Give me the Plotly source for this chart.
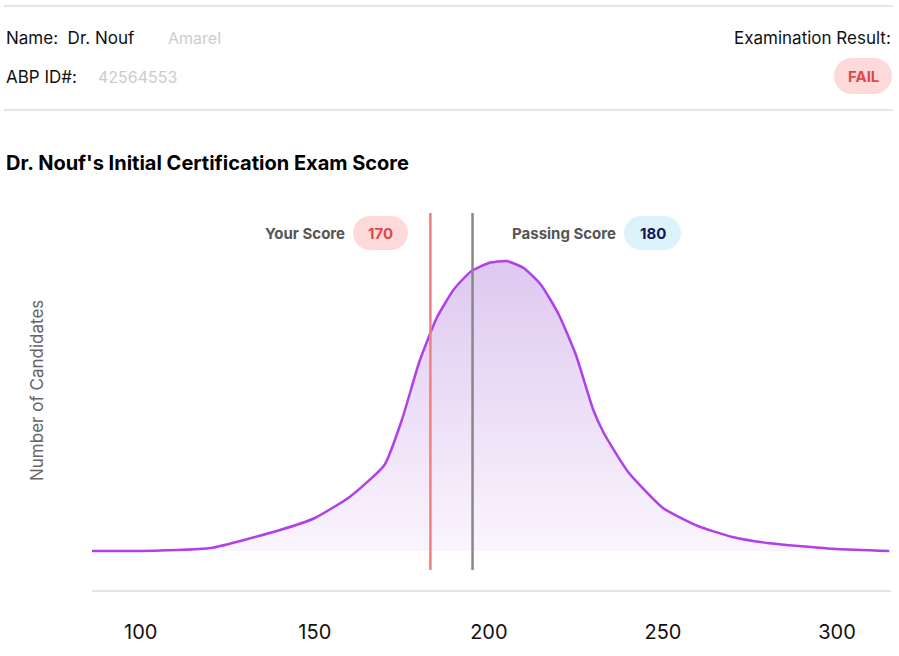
import math
import plotly.graph_objects as go

score_x = [86, 100, 120, 140, 150, 160, 170, 175, 180, 185, 190, 195, 200, 205, 210, 215, 220, 225, 230, 233, 240, 250, 260, 270, 280, 300, 315]
candidates = [0, 0, 3, 21, 33, 54, 86, 131, 189, 233, 262, 280, 288, 290, 283, 266, 237, 196, 141, 118, 79, 43, 25, 14, 8, 2, 0]
your_line_x = 183.2
pass_line_x = 195.3
your_score_label = "170"
pass_score_label = "180"
tick_vals = [100, 150, 200, 250, 300]

W, H = 899, 656
L, R, T, B = 92, 891, 200, 591   # reference pixel coordinates
FONT = "Inter, Open Sans, sans-serif"

def px(x):
    return (x - L) / (R - L)

def py(y):
    return (B - y) / (B - T)

def pill(x0, y0, x1, y1, color):
    r = (y1 - y0) / 2
    cy = (y0 + y1) / 2
    path = f"M {px(x0 + r)} {py(y0)} L {px(x1 - r)} {py(y0)} "
    for i in range(1, 13):
        a = -math.pi / 2 + math.pi * i / 12
        path += f"L {px(x1 - r + r*math.cos(a))} {py(cy + r*math.sin(a))} "
    path += f"L {px(x0 + r)} {py(y1)} "
    for i in range(1, 13):
        a = math.pi / 2 + math.pi * i / 12
        path += f"L {px(x0 + r + r*math.cos(a))} {py(cy + r*math.sin(a))} "
    path += "Z"
    return dict(type="path", xref="paper", yref="paper", path=path,
                fillcolor=color, line=dict(width=0), layer="below")

fig = go.Figure()
fig.add_trace(go.Scatter(
    x=score_x, y=candidates, mode="lines", line=dict(color="#b040e8", width=2.5, shape="spline", smoothing=0.5),
    fill="tozeroy",
    fillgradient=dict(type="vertical", colorscale=[[0, "rgba(250,245,253,1)"], [1, "rgba(222,200,240,1)"]]),
    hoverinfo="skip"))
fig.add_trace(go.Scatter(x=[your_line_x, your_line_x], y=[338, -19], mode="lines",
                         line=dict(color="#f08080", width=2.5), hoverinfo="skip"))
fig.add_trace(go.Scatter(x=[pass_line_x, pass_line_x], y=[338, -19], mode="lines",
                         line=dict(color="#888888", width=2.5), hoverinfo="skip"))

shapes = [
    dict(type="line", xref="paper", yref="paper", x0=px(4), x1=px(893), y0=py(6), y1=py(6), line=dict(color="#dddddd", width=1.5)),
    dict(type="line", xref="paper", yref="paper", x0=px(4), x1=px(893), y0=py(110), y1=py(110), line=dict(color="#dddddd", width=1.5)),
    dict(type="line", xref="paper", yref="paper", x0=0, x1=1, y0=0, y1=0, line=dict(color="#dddddd", width=1.5)),
    pill(353, 216, 408, 250, "#fdd9d9"),
    pill(624, 216, 681, 250, "#ddf3fb"),
    pill(834, 58, 892, 94, "#fdd9d9"),
]

def ann(x, y, text, size, color, xanchor="left", bold=False):
    return dict(xref="paper", yref="paper", x=px(x), y=py(y), text=f"<b>{text}</b>" if bold else text,
                showarrow=False, xanchor=xanchor, yanchor="middle",
                font=dict(family=FONT, size=size, color=color))

annotations = [
    ann(4, 38, "Name:  Dr. Nouf", 17, "#111111"),
    ann(166, 38, "Amarel", 16, "#cccccc"),
    ann(4, 77, "ABP ID#:", 17, "#111111"),
    ann(96, 77, "42564553", 16, "#cccccc"),
    ann(893, 38, "Examination Result:", 17, "#111111", "right"),
    ann(863, 76, "FAIL", 15, "#e04848", "center", True),
    ann(4, 163, "Dr. Nouf's Initial Certification Exam Score", 20, "#000000", bold=True),
    ann(347, 233, "Your Score", 15, "#555555", "right", True),
    ann(380.5, 233, your_score_label, 15, "#e04848", "center", True),
    ann(618, 233, "Passing Score", 15, "#555555", "right", True),
    ann(652.5, 233, pass_score_label, 15, "#14145a", "center", True),
    ann(37, 390, "Number of Candidates", 17, "#666666", "center"),
]
annotations[-1]["textangle"] = -90

fig.update_layout(
    width=W, height=H, margin=dict(l=L, r=W - R, t=T, b=H - B),
    paper_bgcolor="white", plot_bgcolor="white", showlegend=False,
    shapes=shapes, annotations=annotations,
    xaxis=dict(range=[86, 315.5], tickvals=tick_vals, showgrid=False, zeroline=False, showline=False,
               ticks="", ticklabelstandoff=27, tickfont=dict(family=FONT, size=20, color="#111111")),
    yaxis=dict(range=[-40, 351], showgrid=False, zeroline=False, showticklabels=False),
)
fig.write_html("out.html", config={"displayModeBar": False},
               post_script="document.body.style.margin='0';document.body.style.overflow='hidden';")
